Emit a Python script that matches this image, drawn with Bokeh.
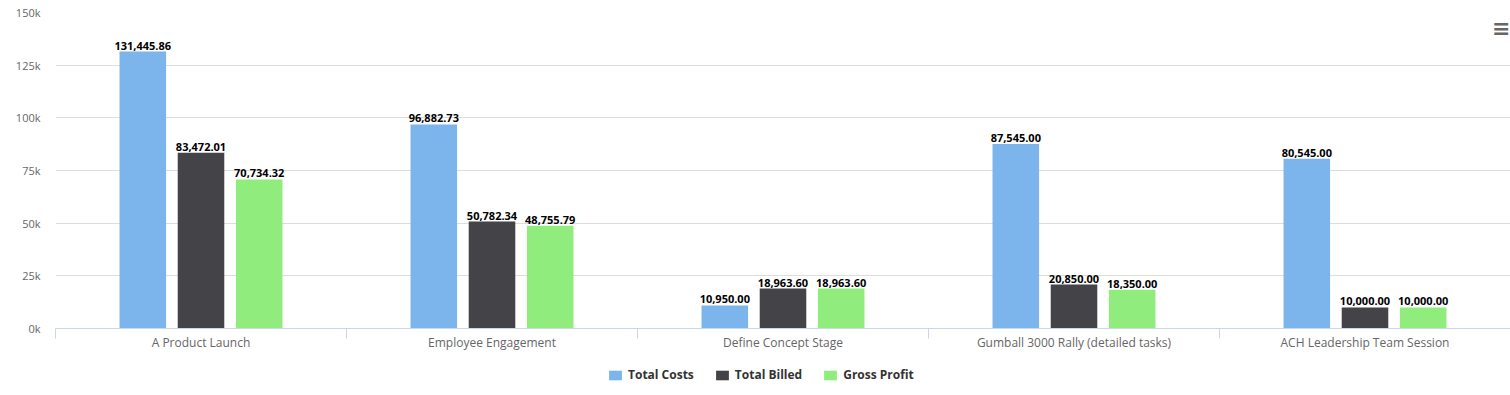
from bokeh.plotting import figure
from bokeh.layouts import column
from bokeh.models import (ColumnDataSource, FixedTicker, Range1d, Legend, LegendItem,
                          LabelSet, Label)
from bokeh.core.properties import value
from bokeh.embed import file_html
from bokeh.resources import INLINE

categories = ["A Product Launch", "Employee Engagement", "Define Concept Stage",
              "Gumball 3000 Rally (detailed tasks)", "ACH Leadership Team Session"]
total_costs = [131445.86, 96882.73, 10950.00, 87545.00, 80545.00]
total_billed = [83472.01, 50782.34, 18963.60, 20850.00, 10000.00]
gross_profit = [70734.32, 48755.79, 18963.60, 18350.00, 10000.00]
series_names = ["Total Costs", "Total Billed", "Gross Profit"]
series_colors = ["#7cb5ec", "#434348", "#90ed7d"]
y_ticks = [0, 25000, 50000, 75000, 100000, 125000, 150000]

FONT = "Open Sans"

p = figure(width=1510, height=360, output_backend="svg", toolbar_location=None,
           x_range=Range1d(0, len(categories)), y_range=Range1d(0, 150000),
           min_border_left=55, min_border_top=12, min_border_right=0, min_border_bottom=32)
p.outline_line_color = None
p.background_fill_color = "white"
p.border_fill_color = "white"

# legend-only figure below the chart
lg = figure(width=1510, height=35, output_backend="svg", toolbar_location=None,
            x_axis_type=None, y_axis_type=None, min_border=0,
            min_border_left=0, min_border_right=0, min_border_top=0, min_border_bottom=0,
            x_range=Range1d(0, 1), y_range=Range1d(0, 1))
lg.outline_line_color = None
lg.grid.grid_line_color = None

offsets = [-0.2, 0.0, 0.2]
bar_w = 0.16
items = []
for vals, name, color, off in zip([total_costs, total_billed, gross_profit],
                                  series_names, series_colors, offsets):
    xs = [i + 0.5 + off for i in range(len(categories))]
    src = ColumnDataSource(dict(x=xs, top=vals,
                                lab=[f"{v:,.2f}" for v in vals]))
    p.vbar(x="x", top="top", width=bar_w, source=src, fill_color=color,
           line_color=None)
    ls = LabelSet(x="x", y="top", text="lab", source=src, text_align="center",
                  text_baseline="bottom", y_offset=2, text_font=value(FONT),
                  text_font_size=value("11px"), text_font_style=value("bold"),
                  text_color=value("#000000"))
    p.add_layout(ls)
    # zero-height proxy renderer used only for the legend swatch
    r2 = lg.vbar(x=[0.5], top=[0], width=0.0, fill_color=color, line_color=None)
    items.append(LegendItem(label=name, renderers=[r2]))

# y axis
p.yaxis.ticker = FixedTicker(ticks=y_ticks)
p.yaxis.major_label_overrides = {t: f"{t // 1000}k" for t in y_ticks}
p.yaxis.axis_line_color = None
p.yaxis.major_tick_line_color = None
p.yaxis.minor_tick_line_color = None
p.yaxis.major_tick_out = 0
p.yaxis.minor_tick_out = 0
p.yaxis.major_label_text_color = "#666666"
p.yaxis.major_label_text_font = FONT
p.yaxis.major_label_text_font_size = "11px"
p.yaxis.major_label_standoff = 15
p.ygrid.grid_line_color = "#dddddd"
p.ygrid.ticker = FixedTicker(ticks=y_ticks)
p.xgrid.grid_line_color = None

# x axis: labels at category centers, ticks at boundaries
centers = [i + 0.5 for i in range(len(categories))]
bounds = [float(i) for i in range(len(categories) + 1)]
p.xaxis.ticker = FixedTicker(ticks=centers, minor_ticks=bounds)
p.xaxis.major_label_overrides = {c: n for c, n in zip(centers, categories)}
p.xaxis.axis_line_color = "#ccd6eb"
p.xaxis.major_tick_line_color = None
p.xaxis.minor_tick_line_color = "#ccd6eb"
p.xaxis.minor_tick_in = 0
p.xaxis.minor_tick_out = 10
p.xaxis.major_tick_out = 0
p.xaxis.major_tick_in = 0
p.xaxis.major_label_standoff = -5
p.xaxis.major_label_text_color = "#666666"
p.xaxis.major_label_text_font = FONT
p.xaxis.major_label_text_font_size = "12px"

legend = Legend(items=items, orientation="horizontal", location=(552, 12),
                glyph_width=16, glyph_height=12, label_text_font=FONT,
                label_text_font_size="12px", label_text_font_style="bold",
                label_text_color="#333333", border_line_color=None,
                background_fill_alpha=0, spacing=20, padding=4, margin=0,
                label_standoff=5, label_height=12)
lg.add_layout(legend, "center")

menu = Label(x=len(categories), y=150000, text="\u2261", text_align="right",
             text_baseline="top", y_offset=-3, x_offset=0,
             text_font="DejaVu Sans", text_font_size="22px", text_color="#666666",
             text_font_style="bold")
p.add_layout(menu)

layout = column(p, lg, spacing=0)
open("out.html", "w").write(file_html(layout, INLINE))
